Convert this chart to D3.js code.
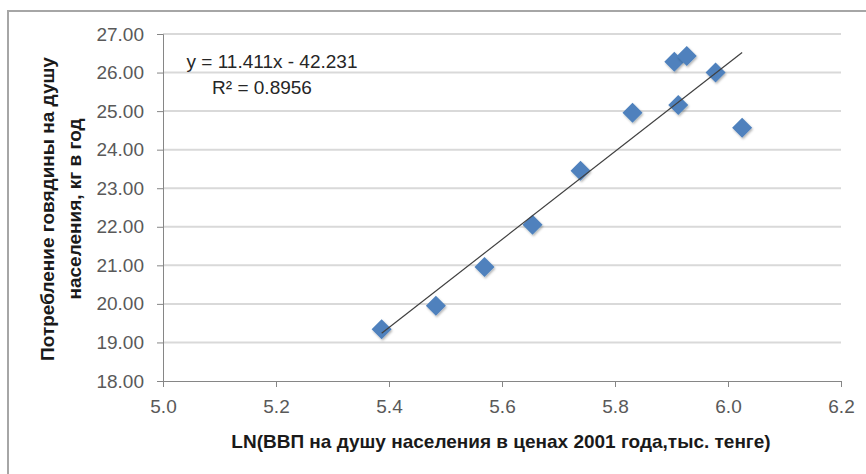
<!DOCTYPE html>
<html>
<head>
<meta charset="utf-8">
<script src="https://cdn.jsdelivr.net/npm/d3@7"></script>
<style>
  body { margin: 0; background: #fff; }
  svg { display: block; }
  .tick text { font-family: "Liberation Sans", Arial, sans-serif; fill: #595959; }
</style>
</head>
<body>
<div class="chart"></div>
<script>
const width = 866;
const height = 474;

// LN(GDP per capita) and beef consumption per capita
const lnGdp = [5.387, 5.483, 5.569, 5.654, 5.739, 5.831, 5.905, 5.927, 5.912, 5.978, 6.025];
const beef = [19.34, 19.95, 20.96, 22.05, 23.45, 24.96, 26.28, 26.43, 25.16, 26.00, 24.57];

const xTicks = [5.0, 5.2, 5.4, 5.6, 5.8, 6.0, 6.2];
const yTicks = [18, 19, 20, 21, 22, 23, 24, 25, 26, 27];

const slope = 11.411;
const intercept = -42.231;
const equationLabel = "y = 11.411x - 42.231";
const r2Label = "R² = 0.8956";

const xTitle = "LN(ВВП на душу населения в ценах 2001 года,тыс. тенге)";
const yTitleLines = ["Потребление говядины на душу", "населения, кг в год"];

const plot = { left: 163, right: 841, top: 34, bottom: 381 };

let data = lnGdp.map((x, i) => ({ x: x, y: beef[i] }));

let svg = d3.select(".chart")
    .append("svg")
    .attr("width", width)
    .attr("height", height);

// outer chart frame (only top and left edges visible in the crop)
svg.append("path")
    .attr("d", `M8,${height}L8,11L${width},11`)
    .attr("fill", "none")
    .attr("stroke", "#a6a6a6")
    .attr("stroke-width", 2);

let xScale = d3.scaleLinear().domain([5.0, 6.2]).range([plot.left, plot.right]);
let yScale = d3.scaleLinear().domain([18, 27]).range([plot.bottom, plot.top]);

// gridlines
svg.append("g")
    .selectAll("line")
    .data(yTicks.filter(d => d > 18))
    .enter()
    .append("line")
    .attr("x1", plot.left)
    .attr("x2", plot.right)
    .attr("y1", d => yScale(d))
    .attr("y2", d => yScale(d))
    .attr("stroke", "#d9d9d9")
    .attr("stroke-width", 2);

//Create yAxis
let yAxis = d3.axisLeft(yScale)
    .tickValues(yTicks)
    .tickFormat(d3.format(".2f"))
    .tickSize(6)
    .tickPadding(13);
let gy = svg.append("g")
    .attr("transform", "translate(" + plot.left + ",0)")
    .call(yAxis);
gy.select(".domain").attr("stroke", "#868686");
gy.selectAll(".tick line").attr("stroke", "#868686");
gy.selectAll(".tick text").attr("font-size", 19);

//Create xAxis
let xAxis = d3.axisBottom(xScale)
    .tickValues(xTicks)
    .tickFormat(d3.format(".1f"))
    .tickSize(6)
    .tickPadding(13);
let gx = svg.append("g")
    .attr("transform", "translate(0," + plot.bottom + ")")
    .call(xAxis);
gx.select(".domain").attr("stroke", "#868686");
gx.selectAll(".tick line").attr("stroke", "#868686");
gx.selectAll(".tick text").attr("font-size", 19);

// soft shadow for markers
let defs = svg.append("defs");
let f = defs.append("filter").attr("id", "shadow")
    .attr("x", "-50%").attr("y", "-50%").attr("width", "200%").attr("height", "200%");
f.append("feDropShadow")
    .attr("dx", 1).attr("dy", 1.5).attr("stdDeviation", 1.2)
    .attr("flood-color", "#000").attr("flood-opacity", 0.3);

// markers
const r = 10;
svg.append("g")
    .selectAll("path")
    .data(data)
    .enter()
    .append("path")
    .attr("d", function (d) {
        let cx = xScale(d.x), cy = yScale(d.y);
        return `M${cx},${cy - r}L${cx + r},${cy}L${cx},${cy + r}L${cx - r},${cy}Z`;
    })
    .attr("fill", "#4f81bd")
    .attr("filter", "url(#shadow)");

// linear trendline over the data range
let xMin = d3.min(data, d => d.x);
let xMax = d3.max(data, d => d.x);
svg.append("line")
    .attr("x1", xScale(xMin))
    .attr("y1", yScale(slope * xMin + intercept))
    .attr("x2", xScale(xMax))
    .attr("y2", yScale(slope * xMax + intercept))
    .attr("stroke", "#404040")
    .attr("stroke-width", 1.2);

// equation label
svg.append("text")
    .text(equationLabel)
    .attr("x", 272)
    .attr("y", 68)
    .attr("text-anchor", "middle")
    .attr("font-family", "Liberation Sans, Arial, sans-serif")
    .attr("font-size", 19)
    .attr("fill", "#262626");
svg.append("text")
    .text(r2Label)
    .attr("x", 262)
    .attr("y", 94)
    .attr("text-anchor", "middle")
    .attr("font-family", "Liberation Sans, Arial, sans-serif")
    .attr("font-size", 19)
    .attr("fill", "#262626");

// axis titles
svg.append("text")
    .text(xTitle)
    .attr("x", 501)
    .attr("y", 448)
    .attr("text-anchor", "middle")
    .attr("font-family", "Liberation Sans, Arial, sans-serif")
    .attr("font-weight", "bold")
    .attr("font-size", 19)
    .attr("fill", "#1a1a1a");

svg.append("text")
    .attr("transform", "translate(54,209) rotate(-90)")
    .attr("text-anchor", "middle")
    .attr("font-family", "Liberation Sans, Arial, sans-serif")
    .attr("font-weight", "bold")
    .attr("font-size", 19)
    .attr("fill", "#1a1a1a")
    .selectAll("tspan")
    .data(yTitleLines)
    .enter()
    .append("tspan")
    .attr("x", 0)
    .attr("dy", (d, i) => i === 0 ? 0 : 27)
    .text(d => d);
</script>
</body>
</html>
